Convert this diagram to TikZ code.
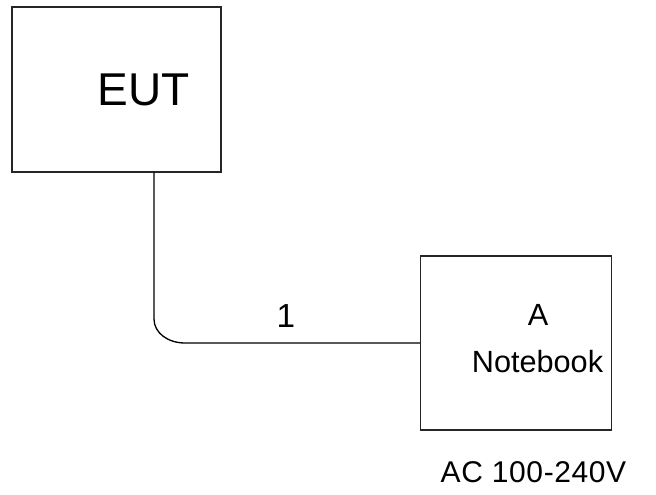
\documentclass[tikz,border=0pt]{standalone}
\usepackage{fontspec}
\setmainfont{Liberation Sans}
\begin{document}
\begin{tikzpicture}[x=0.75pt,y=-0.75pt,
  box/.style={draw=black!85,line width=1.1pt,inner sep=0pt},
  wire/.style={draw=black,line width=1pt},
  lbl/.style={inner sep=0pt,anchor=center}]
\useasboundingbox (0,0) rectangle (656,495);
\node[box,minimum width=209*0.75pt,minimum height=165*0.75pt] (eut) at (116.5,89.5) {};
\node[lbl,font=\fontsize{34.5pt}{36pt}\selectfont] (eutt) at (143.5,89.5) {EUT};
\node[box,minimum width=191*0.75pt,minimum height=174*0.75pt] (nb) at (516,343) {};
\node[lbl,font=\fontsize{23pt}{25pt}\selectfont] (nba) at (538,315) {A};
\node[lbl,font=\fontsize{23pt}{25pt}\selectfont] (nbt) at (537.5,361.5) {Notebook};
\node[lbl,font=\fontsize{22.5pt}{24pt}\selectfont\addfontfeatures{LetterSpace=2}] (ac) at (533.5,472.5) {AC 100-240V};
\coordinate (c1) at (154,319);
\coordinate (c2) at (185,343);
\draw[wire] (eut.south -| c1) -- (c1) .. controls (154,333) and (168,343) .. (c2) -- (nb.west);
\node[lbl,font=\fontsize{25pt}{27pt}\selectfont] (one) at (286,316.5) {1};
\end{tikzpicture}
\end{document}
